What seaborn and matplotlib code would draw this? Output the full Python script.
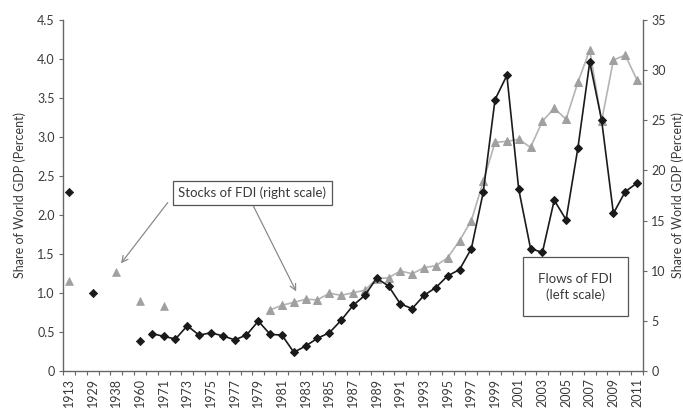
import numpy as np
import pandas as pd
import matplotlib.pyplot as plt
import seaborn as sns

nan = np.nan

# Kategorien der x-Achse (nur jede zweite wird beschriftet, leere = unbeschriftet)
kategorien = ["1913", "", "1929", "", "1938", "", "1960", "", "1971", "1972",
              "1973", "1974", "1975", "1976", "1977", "1978", "1979", "1980", "1981", "1982",
              "1983", "1984", "1985", "1986", "1987", "1988", "1989", "1990", "1991", "1992",
              "1993", "1994", "1995", "1996", "1997", "1998", "1999", "2000", "2001", "2002",
              "2003", "2004", "2005", "2006", "2007", "2008", "2009", "2010", "2011"]

# Flows of FDI (linke Skala), einzelne Punkte ohne Linie
flows_punkte = [2.30, nan, 1.00, nan, nan, nan, 0.39] + [nan] * 42

# Flows of FDI (linke Skala), verbundene Reihe
flows_linie = [nan] * 7 + [
    0.48, 0.445, 0.41,
    0.58, 0.46, 0.49, 0.45, 0.40, 0.46, 0.64, 0.47, 0.46, 0.24,
    0.32, 0.42, 0.49, 0.65, 0.84, 0.97, 1.19, 1.09, 0.86, 0.80,
    0.97, 1.07, 1.22, 1.30, 1.57, 2.29, 3.48, 3.79, 2.33, 1.57,
    1.52, 2.19, 1.94, 2.86, 3.96, 3.22, 2.02, 2.30, 2.41]

# Stocks of FDI (rechte Skala), einzelne Punkte
stocks_punkte = [9.0, nan, nan, nan, 9.9, nan, 7.0, nan, 6.5] + [nan] * 40

# Stocks of FDI (rechte Skala), verbundene Reihe ab 1980
stocks_linie = [nan] * 17 + [
    6.1, 6.55, 6.85,
    7.15, 7.1, 7.75, 7.55, 7.8, 8.05, 9.2, 9.3, 9.97, 9.7,
    10.3, 10.5, 11.3, 13.0, 15.0, 18.9, 22.8, 22.9, 23.1, 22.3,
    24.9, 26.2, 25.1, 28.8, 32.0, 24.9, 31.0, 31.5, 29.0]

df = pd.DataFrame({
    "pos": np.arange(len(kategorien)),
    "flows_punkte": flows_punkte,
    "flows_linie": flows_linie,
    "stocks_punkte": stocks_punkte,
    "stocks_linie": stocks_linie,
})

sns.set_theme(style="white")
plt.rcParams["font.family"] = ["Lato", "DejaVu Sans"]

text_farbe = "#3a3a3a"
achsen_farbe = "#666666"
schwarz = "#1a1a1a"
grau_linie = "#b4b4b4"
grau_marker = "#a0a0a0"
fs = 9

fig = plt.figure(figsize=(6.83, 4.09), dpi=100)
ax1 = fig.add_axes([63 / 683, 38 / 409, 580 / 683, 351 / 409])
ax2 = ax1.twinx()

# Stocks auf der rechten Achse
sns.lineplot(data=df, x="pos", y="stocks_linie", ax=ax2, color=grau_linie, linewidth=1.2,
             marker="^", markersize=5.5, markerfacecolor=grau_marker, markeredgecolor=grau_marker)
sns.scatterplot(data=df, x="pos", y="stocks_punkte", ax=ax2, marker="^", s=32,
                color=grau_marker, edgecolor=grau_marker, linewidth=0.5)

# Flows auf der linken Achse
sns.lineplot(data=df, x="pos", y="flows_linie", ax=ax1, color=schwarz, linewidth=1.2,
             marker="D", markersize=4, markerfacecolor=schwarz, markeredgecolor=schwarz)
sns.scatterplot(data=df, x="pos", y="flows_punkte", ax=ax1, marker="D", s=18,
                color=schwarz, edgecolor=schwarz, linewidth=0.5)

ax1.set_zorder(ax2.get_zorder() + 1)
ax1.patch.set_visible(False)

# Achsen
ax1.set_xlim(-0.5, len(kategorien) - 0.5)
ax1.set_ylim(0, 4.5)
ax2.set_ylim(0, 35)

ax1.set_yticks(np.arange(0, 4.51, 0.5))
ax1.set_yticklabels(["0"] + [f"{v:.1f}" for v in np.arange(0.5, 4.51, 0.5)])
ax2.set_yticks(np.arange(0, 36, 5))

ax1.set_xticks(df["pos"][::2])
ax1.set_xticklabels(kategorien[::2], rotation=90)
ax1.set_xticks(np.arange(-0.5, len(kategorien), 1), minor=True)
ax1.tick_params(axis="x", which="major", length=0, pad=5, labelsize=fs, colors=text_farbe)
ax1.tick_params(axis="x", which="minor", length=3, width=0.8, color=achsen_farbe, bottom=True)
ax1.tick_params(axis="y", length=3, width=0.8, color=achsen_farbe, labelsize=fs,
                labelcolor=text_farbe, left=True, pad=3)
ax2.tick_params(axis="y", length=3, width=0.8, color=achsen_farbe, labelsize=fs,
                labelcolor=text_farbe, right=True, pad=3)

for s in ["top", "right"]:
    ax1.spines[s].set_visible(False)
for s in ["top", "left", "bottom"]:
    ax2.spines[s].set_visible(False)
for sp in [ax1.spines["left"], ax1.spines["bottom"], ax2.spines["right"]]:
    sp.set_color(achsen_farbe)
    sp.set_linewidth(1.0)

ax1.set_xlabel("")
ax1.set_ylabel("Share of World GDP (Percent)", fontsize=fs, color=text_farbe, labelpad=8)
ax2.set_ylabel("Share of World GDP (Percent)", fontsize=fs, color=text_farbe, labelpad=4)

# Beschriftungsboxen mit Pfeilen
ax1.text(15.5, 2.28, "Stocks of FDI (right scale)", ha="center", va="center", fontsize=9.5,
         color=text_farbe, zorder=5,
         bbox=dict(boxstyle="square,pad=0.42", facecolor="white", edgecolor="#555555", linewidth=0.9))
pfeil = dict(arrowstyle="->", color="#8a8a8a", linewidth=0.9, shrinkA=0, shrinkB=0,
             mutation_scale=11)
ax1.annotate("", xy=(4.4, 1.38), xytext=(8.35, 2.16), arrowprops=pfeil)
ax1.annotate("", xy=(19.2, 1.02), xytext=(15.5, 2.14), arrowprops=pfeil)

ax1.text(42.8, 1.08, "Flows of FDI\n(left scale)", ha="center", va="center", fontsize=9.5,
         color=text_farbe, linespacing=1.35, zorder=5,
         bbox=dict(boxstyle="square,pad=1.15", facecolor="white", edgecolor="#555555", linewidth=0.9))

fig.savefig("out.png", dpi=100)
